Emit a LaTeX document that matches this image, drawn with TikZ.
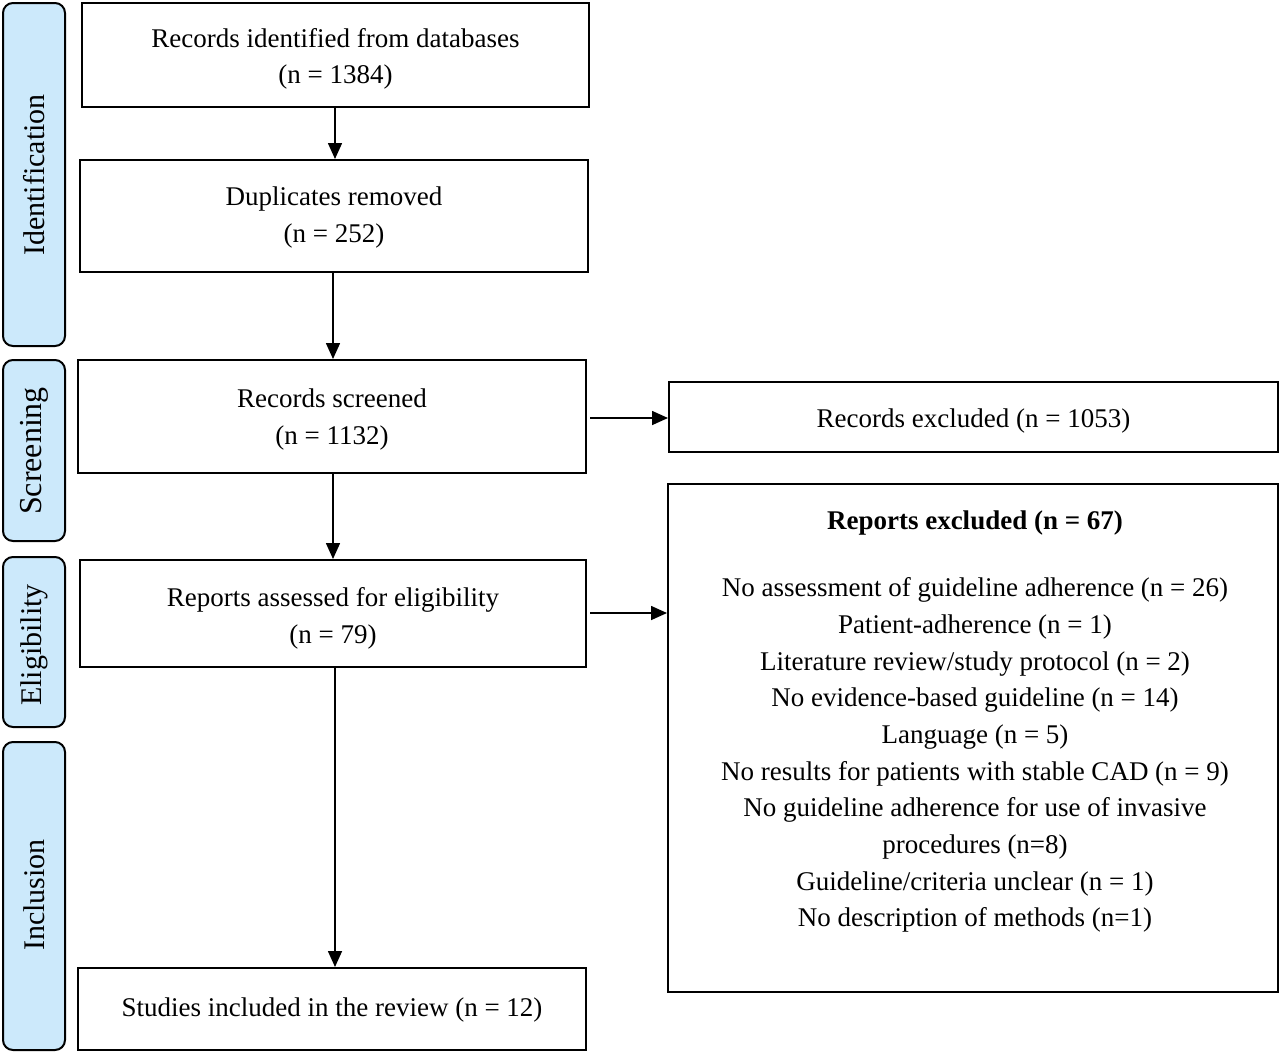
\documentclass[tikz,border=0pt]{standalone}
\usepackage{fontspec}
\setmainfont{Liberation Serif}
\usetikzlibrary{arrows.meta}
\definecolor{phase}{HTML}{CCE9FB}
\tikzset{
  box/.style={draw=black, line width=2pt, inner sep=0pt},
  txt/.style={align=center, inner sep=0pt, font=\fontsize{27}{36.7}\selectfont},
  phasebox/.style={draw=black, line width=2pt, fill=phase, rounded corners=10pt, inner sep=0pt},
  phaselabel/.style={rotate=90, font=\fontsize{30}{34}\selectfont},
  arr/.style={line width=1.6pt, -{Triangle[length=16pt,width=14pt]}},
}
\begin{document}
\begin{tikzpicture}[x=1pt,y=-1pt]
\useasboundingbox (0,0) rectangle (1280,1053);
% phase boxes
\draw[phasebox] (3,3) rectangle (65,346);
\node[phaselabel] (pid) at (34,175) {Identification};
\draw[phasebox] (3,360) rectangle (65,541);
\node[phaselabel, font=\fontsize{32}{34}\selectfont] (psc) at (34,451) {Screening};
\draw[phasebox] (3,557) rectangle (65,727);
\node[phaselabel] (pel) at (34,645) {Eligibility};
\draw[phasebox] (3,742) rectangle (65,1050);
\node[phaselabel] (pin) at (34,895) {Inclusion};
% main boxes
\node[box, minimum width=507pt, minimum height=104pt] (b1) at (335.5,55) {};
\node[txt, yshift=-4pt] (b1t) at (b1.center) {Records identified from databases\\(n = 1384)};
\node[box, minimum width=508pt, minimum height=112pt] (b2) at (334,216) {};
\node[txt, yshift=-1.5pt] (b2t) at (b2.center) {Duplicates removed\\(n = 252)};
\node[box, minimum width=508pt, minimum height=113pt] (b3) at (332,416.5) {};
\node[txt, yshift=-3pt] (b3t) at (b3.center) {Records screened\\(n = 1132)};
\node[box, minimum width=506pt, minimum height=107pt] (b4) at (333,613.5) {};
\node[txt, yshift=-5pt] (b4t) at (b4.center) {Reports assessed for eligibility\\(n = 79)};
\node[box, minimum width=508pt, minimum height=82pt] (b5) at (332,1009) {};
\node[txt, yshift=-1pt] (b5t) at (b5.center) {Studies included in the review (n = 12)};
\node[box, minimum width=609pt, minimum height=70pt] (r1) at (973.5,417) {};
\node[txt, yshift=-4pt] (r1t) at (r1.center) {Records excluded (n = 1053)};
\node[box, minimum width=610pt, minimum height=508pt] (r2) at (973,738) {};
\node[txt, anchor=north] (r2t) at (975,511) {\textbf{Reports excluded (n = 67)}\\[30pt]
No assessment of guideline adherence (n = 26)\\
Patient-adherence (n = 1)\\
Literature review/study protocol (n = 2)\\
No evidence-based guideline (n = 14)\\
Language (n = 5)\\
No results for patients with stable CAD (n = 9)\\
No guideline adherence for use of invasive\\
procedures (n=8)\\
Guideline/criteria unclear (n = 1)\\
No description of methods (n=1)};
% arrows
\draw[arr] (b1.south -| 335,0) -- (b2.north -| 335,0);
\draw[arr] (b2.south -| 333,0) -- (b3.north -| 333,0);
\draw[arr] (b3.south -| 333,0) -- (b4.north -| 333,0);
\draw[arr] (b4.south -| 335,0) -- (b5.north -| 335,0);
\draw[arr] (590,418) -- (r1.west |- 0,418);
\draw[arr] (590,613) -- (r2.west |- 0,613);
\end{tikzpicture}
\end{document}
